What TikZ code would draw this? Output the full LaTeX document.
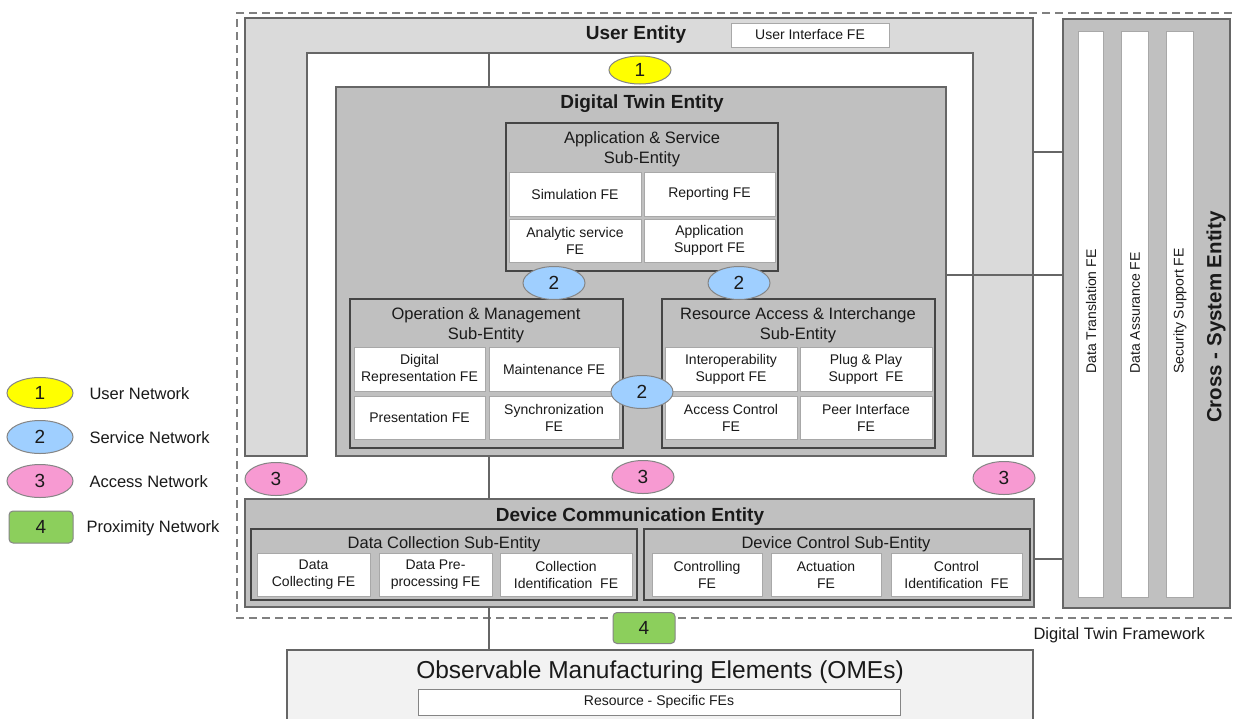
\documentclass[tikz,border=0pt]{standalone}
\usepackage{fontspec}
\setmainfont{Liberation Sans}
\usetikzlibrary{shapes.geometric,calc}
\definecolor{bd}{HTML}{666666}
\definecolor{subbd}{HTML}{454545}
\definecolor{febd}{HTML}{A8A8A8}
\definecolor{uefill}{HTML}{DADADA}
\definecolor{midfill}{HTML}{C0C0C0}
\definecolor{omefill}{HTML}{F2F2F2}
\definecolor{nyellow}{HTML}{FFFF00}
\definecolor{nblue}{HTML}{9FCFFF}
\definecolor{npink}{HTML}{F79AD2}
\definecolor{ngreen}{HTML}{8CCF5C}
\definecolor{txt}{HTML}{1A1A1A}
\newcommand\fsfe{\fontsize{14}{17}\selectfont}
\newcommand\fssub{\fontsize{16.5}{20}\selectfont}
\newcommand\fsent{\fontsize{19}{22}\selectfont\bfseries}
\newcommand\fsnum{\fontsize{19}{22}\selectfont}
\newcommand\fsleg{\fontsize{16.5}{20}\selectfont}
\begin{document}
\begin{tikzpicture}[x=1pt,y=-1pt,
  every node/.style={text=txt},
  box/.style n args={4}{minimum width={(#3-#1)*1pt}, minimum height={(#4-#2)*1pt},
     at={({(#1+#3)/2},{(#2+#4)/2})}, inner sep=0pt, outer sep=0pt},
  entity/.style={draw=bd, line width=1.5pt},
  subent/.style={draw=subbd, line width=2pt, fill=midfill},
  fe/.style={draw=febd, line width=1pt, fill=white, align=center, font=\fsfe},
  conn/.style={draw=bd, line width=1.5pt},
  netel/.style={ellipse, draw=bd!80, line width=1pt, minimum width=62pt, minimum height=33pt, inner sep=0pt, font=\fsnum},
  netone/.style={netel, fill=nyellow, minimum height=28pt},
  nettwo/.style={netel, fill=nblue},
  netthree/.style={netel, fill=npink},
  netfour/.style={draw=bd!80, line width=1pt, fill=ngreen, rounded corners=4pt, minimum width=62pt, minimum height=31pt, inner sep=0pt, font=\fsnum},
  legtext/.style={anchor=west, font=\fsleg},
  subtitle/.style={align=center, font=\fssub},
  enttitle/.style={font=\fsent}
]
\useasboundingbox (0,0) rectangle (1234,718);
\fill[white] (0,0) rectangle (1234,718);

% Digital Twin Framework (dashed)
\draw[gray, line width=1.2pt, dash pattern=on 8pt off 5pt] (1245,13) -- (237,13) -- (237,618) -- (1245,618);
\node[font=\fsleg, anchor=west] (dtf) at (1030,635) {Digital Twin Framework};

% User Entity (inverted U)
\draw[entity, fill=uefill] (245,18) -- (1033,18) -- (1033,456) -- (973,456) -- (973,53)
   -- (307,53) -- (307,456) -- (245,456) -- cycle;
\node[enttitle] (uel) at (636,35) {User Entity};
\node[fe, box={731}{23}{889}{47}] (uif) {User Interface FE};
\coordinate (uetop) at (489,53);
\coordinate (ueright) at (1033,152);

% Digital Twin Entity
\node[entity, fill=midfill, box={336}{87}{946}{456}] (dt) {};
\node[enttitle] (dtl) at (642,104) {Digital Twin Entity};

% Application & Service
\node[subent, box={506}{123}{778}{271}] (as) {};
\node[subtitle] (asl) at (642,149) {Application \& Service\\Sub-Entity};
\node[fe, box={509}{172}{641}{216}] (sim) {Simulation FE};
\node[fe, box={644}{172}{775}{216}] (rep) {Reporting FE};
\node[fe, box={509}{219}{641}{262}] (ana) {Analytic service\\FE};
\node[fe, box={644}{219}{775}{262}] (aps) {Application\\Support FE};

% Operation & Management
\node[subent, box={350}{299}{623}{448}] (om) {};
\node[subtitle] (oml) at (486,325) {Operation \& Management\\Sub-Entity};
\node[fe, box={354}{347}{485}{391}] (dr) {Digital\\Representation FE};
\node[fe, box={489}{347}{619}{391}] (mnt) {Maintenance FE};
\node[fe, box={354}{396}{485}{439}] (pres) {Presentation FE};
\node[fe, box={489}{396}{619}{439}] (sync) {Synchronization\\FE};

% Resource Access & Interchange
\node[subent, box={662}{299}{935}{448}] (ra) {};
\node[subtitle] (ral) at (798,325) {Resource Access \& Interchange\\Sub-Entity};
\node[fe, box={665}{347}{797}{391}] (iop) {Interoperability\\Support FE};
\node[fe, box={800}{347}{932}{391}] (pnp) {Plug \& Play\\Support\ \ FE};
\node[fe, box={665}{396}{797}{439}] (acc) {Access Control\\FE};
\node[fe, box={800}{396}{932}{439}] (peer) {Peer Interface\\FE};

% Device Communication Entity
\node[entity, fill=midfill, box={245}{499}{1034}{607}] (dc) {};
\node[enttitle] (dcl) at (630,517) {Device Communication Entity};
\node[subent, box={251}{529}{637}{600}] (dcs) {};
\node[subtitle] (dcsl) at (444,544) {Data Collection Sub-Entity};
\node[fe, box={257}{553}{370}{596}] (dcf) {Data\\Collecting FE};
\node[fe, box={379}{553}{492}{596}] (dpp) {Data Pre-\\processing FE};
\node[fe, box={500}{553}{632}{596}] (cid) {Collection\\Identification\ \ FE};
\node[subent, box={644}{529}{1030}{600}] (dvc) {};
\node[subtitle] (dvcl) at (836,544) {Device Control Sub-Entity};
\node[fe, box={652}{553}{762}{596}] (ctl) {Controlling\\FE};
\node[fe, box={771}{553}{881}{596}] (act) {Actuation\\FE};
\node[fe, box={891}{553}{1022}{596}] (ctid) {Control\\Identification\ \ FE};

% Cross-System Entity
\node[entity, fill=midfill, box={1063}{19}{1230}{608}] (cs) {};
\node[draw=febd, line width=1pt, fill=white, box={1078}{31}{1103}{597}] (dtr) {};
\node[draw=febd, line width=1pt, fill=white, box={1121}{31}{1148}{597}] (das) {};
\node[draw=febd, line width=1pt, fill=white, box={1166}{31}{1193}{597}] (ssp) {};
\node[font=\fsfe, rotate=90, anchor=west] (dtrl) at (1091,377) {Data Translation FE};
\node[font=\fsfe, rotate=90, anchor=west] (dasl) at (1135,377) {Data Assurance FE};
\node[font=\fsfe, rotate=90, anchor=west] (sspl) at (1180,377) {Security Support FE};
\node[font=\fontsize{20.5}{24}\selectfont\bfseries, rotate=90] (csl) at (1216,317) {Cross - System Entity};

% OMEs
\node[entity, fill=omefill, box={287}{650}{1033}{724}] (ome) {};
\node[font=\fontsize{24.5}{28}\selectfont] (omel) at (660,672) {Observable Manufacturing Elements (OMEs)};
\node[draw=bd!80, line width=1pt, fill=white, font=\fsfe, box={418}{689}{900}{715}] (rsf) {Resource - Specific FEs};

% Connectors
\coordinate (y275) at (0,275);
\coordinate (y559) at (0,559);
\draw[conn] (uetop) -- (uetop |- dt.north);
\draw[conn] (uetop |- dt.south) -- (uetop |- dc.north);
\draw[conn] (uetop |- dc.south) -- (uetop |- ome.north);
\draw[conn] (ueright) -- (ueright -| cs.west);
\draw[conn] (dt.east |- y275) -- (cs.west |- y275);
\draw[conn] (dc.east |- y559) -- (cs.west |- y559);

% Network markers
\node[netone] (n1) at (640,70) {1};
\node[nettwo] (n2a) at (554,283) {2};
\node[nettwo] (n2b) at (739,283) {2};
\node[nettwo] (n2c) at (642,392) {2};
\node[netthree] (n3a) at (276,479) {3};
\node[netthree] (n3b) at (643,477) {3};
\node[netthree] (n3c) at (1004,478) {3};
\node[netfour] (n4) at (644,628) {4};

% Legend
\node[netel, fill=nyellow, minimum width=66pt, minimum height=31pt] (l1) at (40,393) {1};
\node[netel, fill=nblue, minimum width=66pt] (l2) at (40,437) {2};
\node[netel, fill=npink, minimum width=66pt] (l3) at (40,481) {3};
\node[netfour, minimum width=64pt, minimum height=32pt] (l4) at (41,527) {4};
\node[legtext] (lt1) at (86,394) {User Network};
\node[legtext] (lt2) at (86,438) {Service Network};
\node[legtext] (lt3) at (86,482) {Access Network};
\node[legtext] (lt4) at (83,528) {Proximity Network};
\end{tikzpicture}
\end{document}
